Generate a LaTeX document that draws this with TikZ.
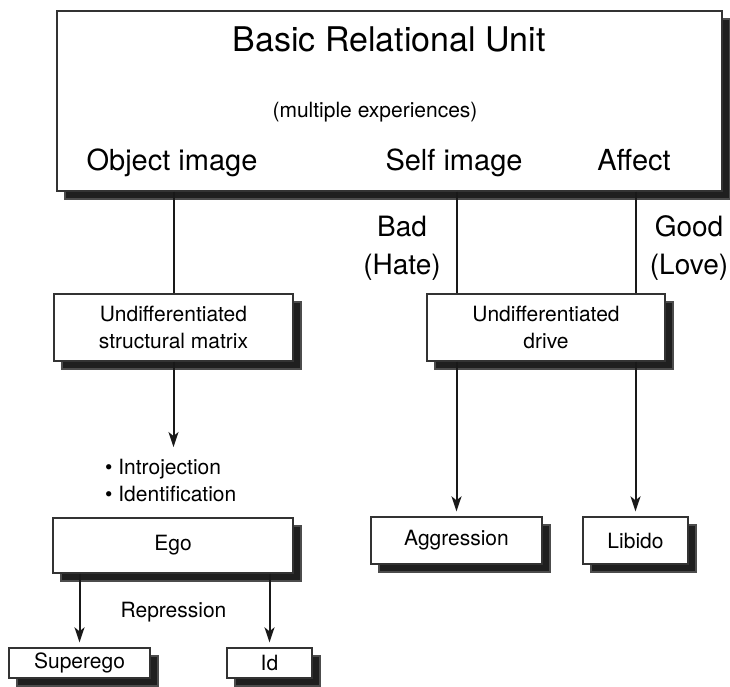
\documentclass[tikz,border=0pt]{standalone}
\usepackage{fontspec}
\setmainfont{TeX Gyre Heros}
\usetikzlibrary{arrows.meta,shadows}

\begin{document}
\begin{tikzpicture}[x=1pt,y=-1pt,font=\fontsize{21}{26.5}\selectfont,
  box/.style={draw=black!80,line width=1.3pt,fill=white,inner sep=0pt,align=center,
    drop shadow={shadow xshift=8pt,shadow yshift=-8pt,fill=black!88,draw=black!70,opacity=1}},
  txt/.style={inner sep=0pt,align=center},
  big/.style={txt,font=\fontsize{29}{35}\selectfont,anchor=base},
  link/.style={line width=2pt,draw=black!90},
  arr/.style={link,-{Stealth[length=15pt,width=10pt,inset=4pt]},shorten >=5pt}]
  \useasboundingbox (0,0) rectangle (730,687);

  \node[box,minimum width=665pt,minimum height=180pt] (unit) at (389.5,101) {};
  \node[txt,font=\fontsize{34}{40}\selectfont,anchor=base] (title) at (389,52) {Basic Relational Unit};
  \node[txt,anchor=base] (multi) at (375,118) {(multiple experiences)};
  \node[big] (objimg) at (172,171) {Object image};
  \node[big] (selfimg) at (454,171) {Self image};
  \node[big] (affect) at (634,171) {Affect};

  \node[box,minimum width=239pt,minimum height=67pt] (matrix) at (173.5,327.5) {Undifferentiated\\structural matrix};
  \node[box,minimum width=238pt,minimum height=67pt] (drive) at (546,327.5) {Undifferentiated\\drive};
  \node[txt,font=\fontsize{28}{38}\selectfont] (bad) at (402,248) {Bad\\(Hate)};
  \node[txt,font=\fontsize{28}{38}\selectfont] (good) at (689,248) {Good\\(Love)};

  \node[txt,align=left,anchor=west,inner ysep=7pt] (mech) at (105,480.3) {• Introjection\\• Identification};
  \node[box,minimum width=240pt,minimum height=55pt] (ego) at (173,545.5) {Ego};
  \node[txt] (repr) at (173.5,612) {Repression};
  \node[box,minimum width=141pt,minimum height=30pt] (superego) at (79.5,663) {Superego};
  \node[box,minimum width=85pt,minimum height=30pt] (id) at (269.5,663) {Id};

  \node[box,minimum width=171pt,minimum height=47pt] (aggr) at (456.5,540.5) {Aggression};
  \node[box,minimum width=105pt,minimum height=47pt] (libido) at (635.5,540.5) {Libido};

  \draw[link] (matrix.north |- unit.south) -- (matrix.north);
  \draw[arr] (matrix.south) -- (matrix.south |- mech.north);
  \draw[arr] (superego.north |- ego.south) -- (superego.north);
  \draw[arr] (id.north |- ego.south) -- (id.north);

  \draw[link] (aggr.north |- unit.south) -- (aggr.north |- drive.north);
  \draw[link] (libido.north |- unit.south) -- (libido.north |- drive.north);
  \draw[arr] (aggr.north |- drive.south) -- (aggr.north);
  \draw[arr] (libido.north |- drive.south) -- (libido.north);
\end{tikzpicture}
\end{document}
